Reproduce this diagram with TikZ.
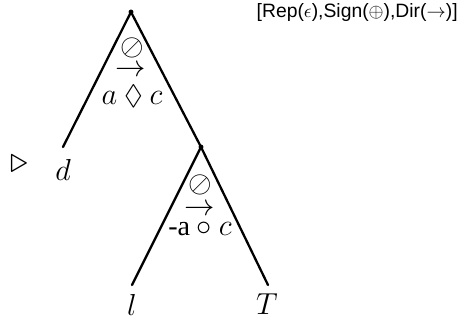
\documentclass[tikz,border=0pt]{standalone}
\usepackage{amssymb}
\usepackage{fontspec}
\setsansfont{Liberation Sans}
\newfontfamily\lblserif{Liberation Serif}
\begin{document}
\begin{tikzpicture}[x=0.02cm, y=-0.02cm, font=\fontsize{16}{19}\selectfont, line join=round, line cap=round, every node/.style={inner sep=0pt}]
	\useasboundingbox (0,0) rectangle (460,320);
	\path
	(131,12) coordinate (R)
	(63,147) coordinate (D_e)
	(201,147) coordinate (M)
	(132,285) coordinate (L_e)
	(268,285) coordinate (T_e)
	;
	\draw [line width=1.3pt]
	(D_e) -- (R) -- (M) (L_e) -- (M) -- (T_e);
	\fill (R) circle (1.4pt);
	\fill (M) circle (1.4pt);
	% labels of the upper split
	\node [anchor=base] (o1) at (132,56) {$\oslash$};
	\node [anchor=base] (a1) at (131,77) {$\rightarrow$};
	\node [anchor=base] (e1) at (132,105) {$a \mathbin{\lozenge} c$};
	% labels of the lower split
	\node [anchor=base] (o2) at (200,193) {$\oslash$};
	\node [anchor=base] (a2) at (200,216) {$\rightarrow$};
	\node [anchor=base] (e2) at (200,236) {$\mbox{\lblserif -a} \circ c$};
	% leaves
	\node (d) at (63,170) {$d$};
	\node (l) at (132,305) {$l$};
	\node (T) at (267,304) {$T$};
	\node [font=\fontsize{21}{24}\selectfont] (tri) at (19,164) {$\triangleright$};
	\node [anchor=east, font=\sffamily\fontsize{11}{13}\selectfont] (attrs) at (458,13) {[Rep($\epsilon$),Sign($\oplus$),Dir($\rightarrow$)]};
\end{tikzpicture}
\end{document}
